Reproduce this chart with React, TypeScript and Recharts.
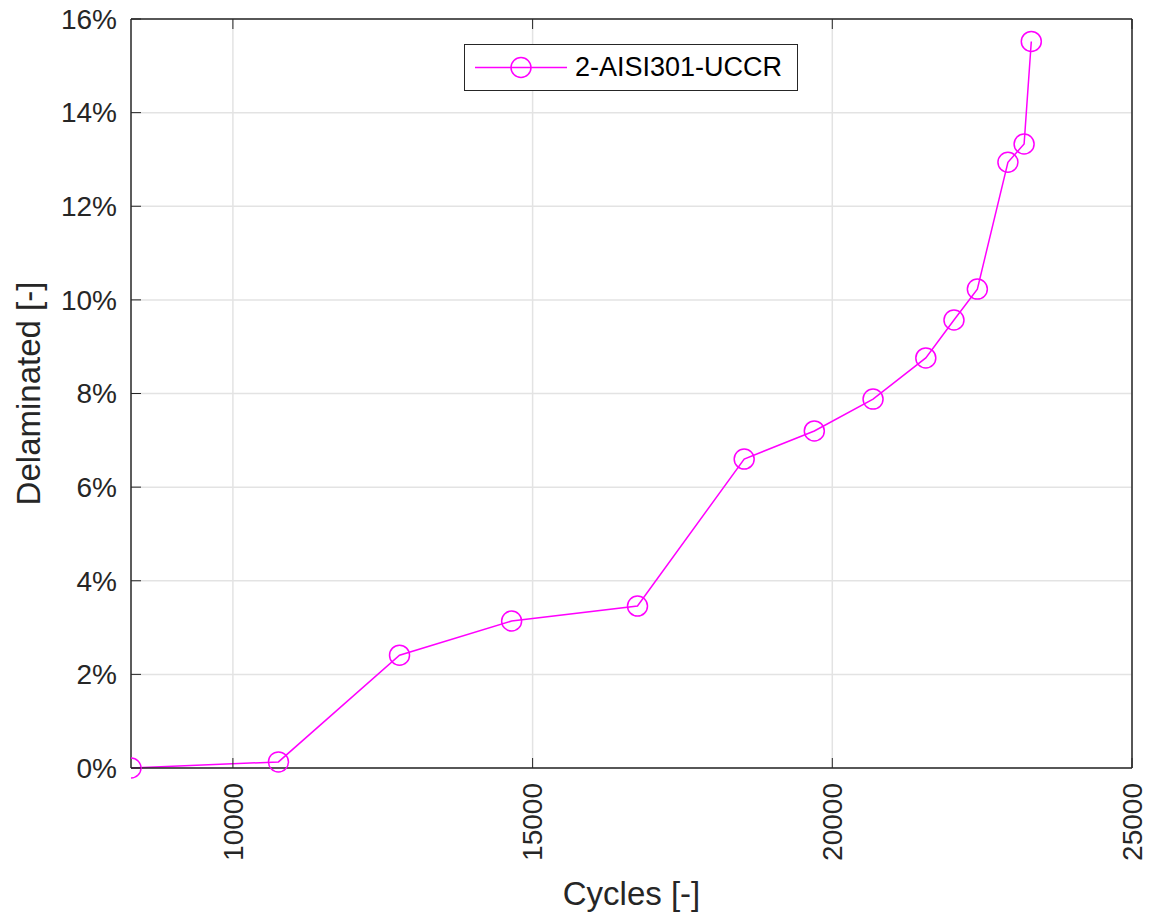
import { LineChart, Line, XAxis, YAxis, CartesianGrid, Legend } from "recharts";

// measured delamination vs. load cycles
const cycles = [8300, 10760, 12780, 14650, 16750, 18530, 19700, 20680, 21560, 22030, 22420, 22930, 23200, 23320];
const delaminated = [0, 0.13, 2.41, 3.14, 3.46, 6.6, 7.2, 7.88, 8.76, 9.57, 10.23, 12.94, 13.33, 15.52];
const seriesName = "2-AISI301-UCCR";

const xTicks = [10000, 15000, 20000, 25000];
const yTicks = [0, 2, 4, 6, 8, 10, 12, 14, 16];

const data = cycles.map((c, i) => ({ cycles: c, value: delaminated[i] }));

const W = 1155;
const H = 920;
const LEFT = 131;
const RIGHT = 23;
const TOP = 19;
const BOTTOM = 152;

const FONT = "'Liberation Sans', Arial, Helvetica, sans-serif";
const AXIS = "#262626";
const MAGENTA = "#ff00ff";
const TICK_LEN = 10;

const BottomTick = (props: any) => {
  const { x, y, payload } = props;
  return (
    <g>
      <line x1={x} y1={y} x2={x} y2={y - TICK_LEN} stroke={AXIS} strokeWidth={1} />
      <text
        x={x}
        y={y + 15}
        transform={`rotate(-90, ${x}, ${y + 15})`}
        textAnchor="end"
        dy="0.35em"
        fill={AXIS}
        fontSize={28}
        fontFamily={FONT}
      >
        {payload.value}
      </text>
    </g>
  );
};

const TopTick = (props: any) => {
  const { x, y } = props;
  return <line x1={x} y1={y} x2={x} y2={y + TICK_LEN} stroke={AXIS} strokeWidth={1} />;
};

const LeftTick = (props: any) => {
  const { x, y, payload } = props;
  return (
    <g>
      <line x1={x} y1={y} x2={x + TICK_LEN} y2={y} stroke={AXIS} strokeWidth={1} />
      <text x={x - 14} y={y} dy="0.35em" textAnchor="end" fill={AXIS} fontSize={28} fontFamily={FONT}>
        {`${payload.value}%`}
      </text>
    </g>
  );
};

const RightTick = (props: any) => {
  const { x, y } = props;
  return <line x1={x} y1={y} x2={x - TICK_LEN} y2={y} stroke={AXIS} strokeWidth={1} />;
};

const Marker = (props: any) => {
  const { cx, cy, index } = props;
  return <circle key={index} cx={cx} cy={cy} r={10} fill="none" stroke={MAGENTA} strokeWidth={1.5} />;
};

const LegendBox = () => (
  <div
    style={{
      width: 332,
      height: 45,
      border: `1.5px solid ${AXIS}`,
      background: "#fff",
      display: "flex",
      alignItems: "center",
      fontFamily: FONT,
      fontSize: 27,
      color: "#000",
    }}
  >
    <svg width={110} height={45}>
      <line x1={10} y1={22.5} x2={102} y2={22.5} stroke={MAGENTA} strokeWidth={1.5} />
      <circle cx={56} cy={22.5} r={10} fill="none" stroke={MAGENTA} strokeWidth={1.5} />
    </svg>
    <span>{seriesName}</span>
  </div>
);

export default function App() {
  return (
    <div style={{ position: "absolute", left: 0, top: 0, width: W, height: H, background: "#fff" }}>
      <LineChart width={W} height={H} data={data} margin={{ top: TOP - 1, right: RIGHT - 1, bottom: 0, left: 0 }}>
        <CartesianGrid
          xAxisId="bottom"
          yAxisId="left"
          stroke="#e3e3e3"
          strokeWidth={1.5}
          horizontalValues={yTicks}
          verticalValues={xTicks}
        />
        <XAxis
          xAxisId="bottom"
          dataKey="cycles"
          type="number"
          domain={[8300, 25000]}
          ticks={xTicks}
          allowDataOverflow
          height={BOTTOM}
          tickSize={0}
          tickMargin={0}
          tickLine={false}
          axisLine={{ stroke: AXIS, strokeWidth: 1.5 }}
          tick={<BottomTick />}
          interval={0}
          label={{
            content: ({ viewBox }: any) => (
              <text
                x={viewBox.x + viewBox.width / 2}
                y={viewBox.y + 125}
                dy="0.35em"
                textAnchor="middle"
                fill={AXIS}
                fontSize={33}
                fontFamily={FONT}
              >
                Cycles [-]
              </text>
            ),
          }}
        />
        <XAxis
          xAxisId="top"
          orientation="top"
          dataKey="cycles"
          type="number"
          domain={[8300, 25000]}
          allowDataOverflow
          ticks={xTicks}
          height={1}
          tickSize={0}
          tickMargin={0}
          tickLine={false}
          axisLine={{ stroke: AXIS, strokeWidth: 1.5 }}
          tick={<TopTick />}
          interval={0}
        />
        <YAxis
          yAxisId="left"
          type="number"
          domain={[0, 16]}
          ticks={yTicks}
          width={LEFT}
          tickSize={0}
          tickMargin={0}
          tickLine={false}
          axisLine={{ stroke: AXIS, strokeWidth: 1.5 }}
          tick={<LeftTick />}
          interval={0}
          label={{
            content: ({ viewBox }: any) => {
              const cx = viewBox.x + 28;
              const cy = viewBox.y + viewBox.height / 2;
              return (
                <text
                  x={cx}
                  y={cy}
                  transform={`rotate(-90, ${cx}, ${cy})`}
                  dy="0.35em"
                  textAnchor="middle"
                  fill={AXIS}
                  fontSize={33}
                  fontFamily={FONT}
                >
                  Delaminated [-]
                </text>
              );
            },
          }}
        />
        <YAxis
          yAxisId="right"
          orientation="right"
          type="number"
          domain={[0, 16]}
          ticks={yTicks}
          width={1}
          tickSize={0}
          tickMargin={0}
          tickLine={false}
          axisLine={{ stroke: AXIS, strokeWidth: 1.5 }}
          tick={<RightTick />}
          interval={0}
        />
        <Legend
          layout="horizontal"
          verticalAlign="middle"
          align="center"
          wrapperStyle={{ position: "absolute", left: 464, top: 44, width: "auto", height: "auto" }}
          content={() => <LegendBox />}
        />
        <Line
          xAxisId="bottom"
          yAxisId="left"
          type="linear"
          dataKey="value"
          name={seriesName}
          stroke={MAGENTA}
          strokeWidth={1.5}
          dot={<Marker />}
          activeDot={false}
          isAnimationActive={false}
        />
      </LineChart>
    </div>
  );
}
